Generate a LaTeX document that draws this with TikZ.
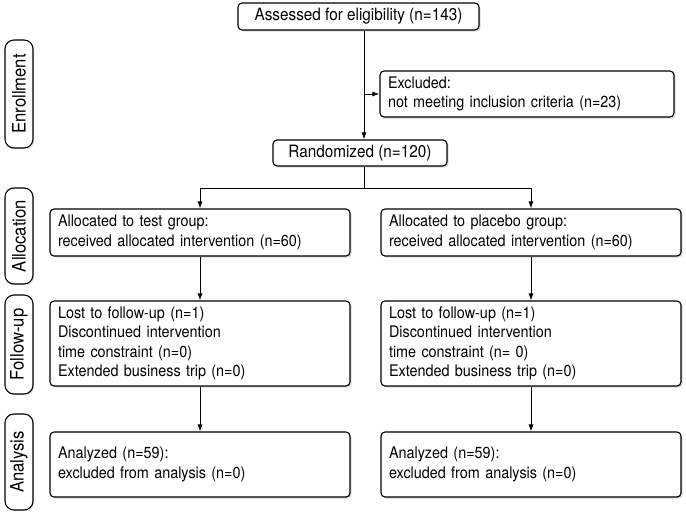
\documentclass[tikz,border=0pt]{standalone}
\usepackage{fontspec}
\setmainfont{TeX Gyre Heros}[FakeStretch=0.9]
\usetikzlibrary{arrows.meta,shadows}

\tikzset{
	box/.style={draw, rounded corners=4pt, line width=1.1pt, fill=white, align=left,
		inner xsep=8pt, inner ysep=3pt, font=\fontsize{16}{19.5}\selectfont,
		drop shadow={shadow xshift=1.6pt, shadow yshift=-1.6pt, opacity=0.3}},
	topbox/.style={box, align=center, font=\fontsize{17}{20}\selectfont},
	stage/.style={draw, rounded corners=9pt, line width=1.1pt, fill=white, rotate=90,
		minimum height=28pt, inner sep=0pt, font=\fontsize{18.5}{20}\selectfont,
		drop shadow={shadow xshift=1.2pt, shadow yshift=-1.2pt, opacity=0.25}},
	arr/.style={-{Latex[length=7pt,width=5pt]}, line width=0.9pt},
	line/.style={line width=0.9pt},
}

\begin{document}
\begin{tikzpicture}[x=1pt,y=-1pt]
	\useasboundingbox (0,0) rectangle (686,520);

	% stages
	\node[stage, minimum width=108pt] (enrol) at (19,94) {Enrollment};
	\node[stage, minimum width=96pt]  (alloc) at (19,236) {Allocation};
	\node[stage, minimum width=99pt]  (follow) at (19,344.5) {Follow-up};
	\node[stage, minimum width=96pt]  (anal) at (19,462) {Analysis};

	% enrollment
	\node[topbox, minimum width=241pt, minimum height=27pt] (assess) at (358.5,16.5)
		{Assessed for eligibility (n=143)};
	\node[box, text width=278pt, minimum height=46pt] (excl) at (527,94)
		{Excluded:\\not meeting inclusion criteria (n=23)};
	\node[topbox, minimum width=174pt, minimum height=26pt] (rand) at (360,153)
		{Randomized (n=120)};
	\coordinate (spine) at (364,0);
	\coordinate (split) at (364,188);

	% test group
	\node[box, text width=284pt, minimum height=47pt] (alloc1) at (200,232.5)
		{Allocated to test group:\\received allocated intervention (n=60)};
	\node[box, text width=284pt, minimum height=85pt] (follow1) at (200,343.5)
		{Lost to follow-up (n=1)\\Discontinued intervention\\time constraint (n=0)\\Extended business trip (n=0)};
	\node[box, text width=284pt, minimum height=65pt] (anal1) at (200,464.5)
		{Analyzed (n=59):\\excluded from analysis (n=0)};

	% placebo group
	\node[box, text width=284pt, minimum height=47pt] (alloc2) at (531,232.5)
		{Allocated to placebo group:\\received allocated intervention (n=60)};
	\node[box, text width=284pt, minimum height=85pt] (follow2) at (531,343.5)
		{Lost to follow-up (n=1)\\Discontinued intervention\\time constraint (n= 0)\\Extended business trip (n=0)};
	\node[box, text width=284pt, minimum height=65pt] (anal2) at (531,464.5)
		{Analyzed (n=59):\\excluded from analysis (n=0)};

	% connectors
	\draw[arr] (assess.south -| spine) -- (rand.north -| spine);
	\draw[arr] (excl.west -| spine) -- (excl.west);
	\draw[line] (rand.south -| spine) -- (split);
	\draw[arr] (split) -| (alloc1);
	\draw[arr] (split) -| (alloc2);
	\draw[arr] (alloc1) -- (follow1);
	\draw[arr] (follow1) -- (anal1);
	\draw[arr] (alloc2) -- (follow2);
	\draw[arr] (follow2) -- (anal2);
\end{tikzpicture}
\end{document}
